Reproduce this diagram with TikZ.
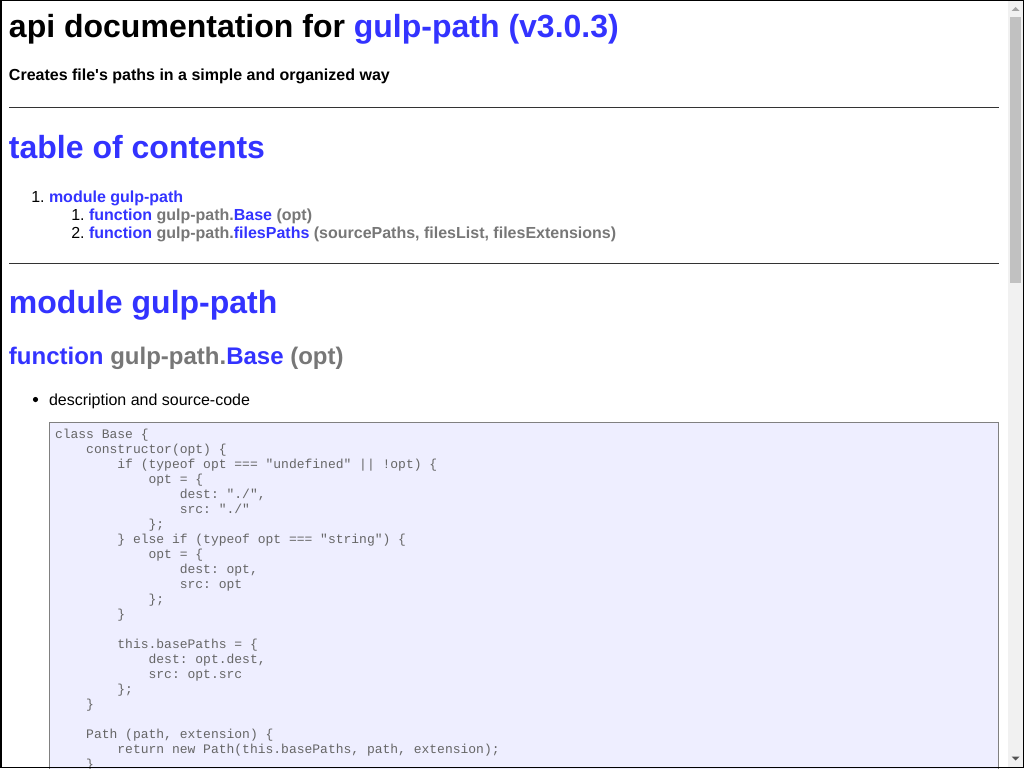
\documentclass[tikz,border=0pt]{standalone}
\usepackage{fontspec}
\setmainfont{Liberation Sans}
\setmonofont{Liberation Mono}
\definecolor{lnk}{HTML}{3333FF}
\definecolor{sig}{HTML}{777777}
\definecolor{codefg}{HTML}{666666}
\definecolor{codebg}{HTML}{EEEEFF}
\definecolor{codebd}{HTML}{808080}
\definecolor{track}{HTML}{F1F1F1}
\definecolor{thumb}{HTML}{C1C1C1}
\newcommand\fhone{\fontsize{32}{37}\selectfont\bfseries}
\newcommand\fhtwo{\fontsize{24}{28}\selectfont\bfseries}
\newcommand\fbody{\fontsize{16}{18}\selectfont}
\newcommand\fbodyb{\fontsize{16}{18}\selectfont\bfseries}
\newcommand\fcode{\fontsize{13}{15}\selectfont\ttfamily\color{codefg}}
\begin{document}
\begin{tikzpicture}[x=1pt,y=-1pt,
  txt/.style={anchor=base west,inner sep=0pt,outer sep=0pt},
  num/.style={anchor=base east,inner sep=0pt,outer sep=0pt,font=\fbody},
  code/.style={anchor=base west,inner sep=0pt,outer sep=0pt,font=\fcode},
  hrline/.style={draw=black!80,line width=1.4pt}]
\useasboundingbox (0,0) rectangle (1024,768);
\begin{scope}
\clip (0,0) rectangle (1024,768);
\fill[white] (0,0) rectangle (1024,768);
% headings
\node[txt,font=\fhone] (title) at (9,37.5) {api documentation for \textcolor{lnk}{gulp-path (v3.0.3)}};
\node[txt,font=\fbodyb] (subtitle) at (9,81) {Creates file\textquotesingle s paths in a simple and organized way};
\draw[hrline] (9,107.5) -- (999,107.5);
\node[txt,font=\fhone,text=lnk] (toc) at (9,158) {table of contents};
\node[num] (n1) at (44.6,202) {1.};
\node[txt,font=\fbodyb,text=lnk] (t1) at (49,202) {module gulp-path};
\node[num] (n11) at (84.6,220) {1.};
\node[txt,font=\fbodyb] (t11) at (89,220) {\textcolor{lnk}{function} \textcolor{sig}{gulp-path.}\textcolor{lnk}{Base} \textcolor{sig}{(opt)}};
\node[num] (n12) at (84.6,238) {2.};
\node[txt,font=\fbodyb] (t12) at (89,238) {\textcolor{lnk}{function} \textcolor{sig}{gulp-path.}\textcolor{lnk}{filesPaths} \textcolor{sig}{(sourcePaths, filesList, filesExtensions)}};
\draw[hrline] (9,263.5) -- (999,263.5);
\node[txt,font=\fhone,text=lnk] (mod) at (9,313) {module gulp-path};
\node[txt,font=\fhtwo] (fn) at (9,364) {\textcolor{lnk}{function} \textcolor{sig}{gulp-path.}\textcolor{lnk}{Base} \textcolor{sig}{(opt)}};
\fill[black] (35.5,399.5) circle (2.6);
\node[txt,font=\fbody] (desc) at (49,405) {description and source-code};
% code box
\fill[codebg] (49,422) rectangle (999,770);
\draw[codebd,line width=1.2pt] (49.6,770) -- (49.6,422.6) -- (998.4,422.6) -- (998.4,770);
\node[code] (c1) at (55,438.5) {class Base \{};
\node[code] (c2) at (86.2,453.5) {constructor(opt) \{};
\node[code] (c3) at (117.4,468.5) {if (typeof opt === "undefined" || !opt) \{};
\node[code] (c4) at (148.6,483.5) {opt = \{};
\node[code] (c5) at (179.8,498.5) {dest: "./",};
\node[code] (c6) at (179.8,513.5) {src: "./"};
\node[code] (c7) at (148.6,528.5) {\};};
\node[code] (c8) at (117.4,543.5) {\} else if (typeof opt === "string") \{};
\node[code] (c9) at (148.6,558.5) {opt = \{};
\node[code] (c10) at (179.8,573.5) {dest: opt,};
\node[code] (c11) at (179.8,588.5) {src: opt};
\node[code] (c12) at (148.6,603.5) {\};};
\node[code] (c13) at (117.4,618.5) {\}};
\node[code] (c15) at (117.4,648.5) {this.basePaths = \{};
\node[code] (c16) at (148.6,663.5) {dest: opt.dest,};
\node[code] (c17) at (148.6,678.5) {src: opt.src};
\node[code] (c18) at (117.4,693.5) {\};};
\node[code] (c19) at (86.2,708.5) {\}};
\node[code] (c21) at (86.2,738.5) {Path (path, extension) \{};
\node[code] (c22) at (117.4,753.5) {return new Path(this.basePaths, path, extension);};
\node[code] (c23) at (86.2,768.5) {\}};
% scrollbar
\fill[track] (1008,0) rectangle (1024,768);
\fill[thumb] (1010,17) rectangle (1021,283);
\fill[black!36] (1011.5,11) -- (1019.5,11) -- (1015.5,7) -- cycle;
\fill[black!68] (1011.5,756.5) -- (1019.5,756.5) -- (1015.5,760.5) -- cycle;
% page border
\draw[black,line width=1.5pt] (0.75,0.75) rectangle (1023.25,767.25);
\end{scope}
\end{tikzpicture}
\end{document}
